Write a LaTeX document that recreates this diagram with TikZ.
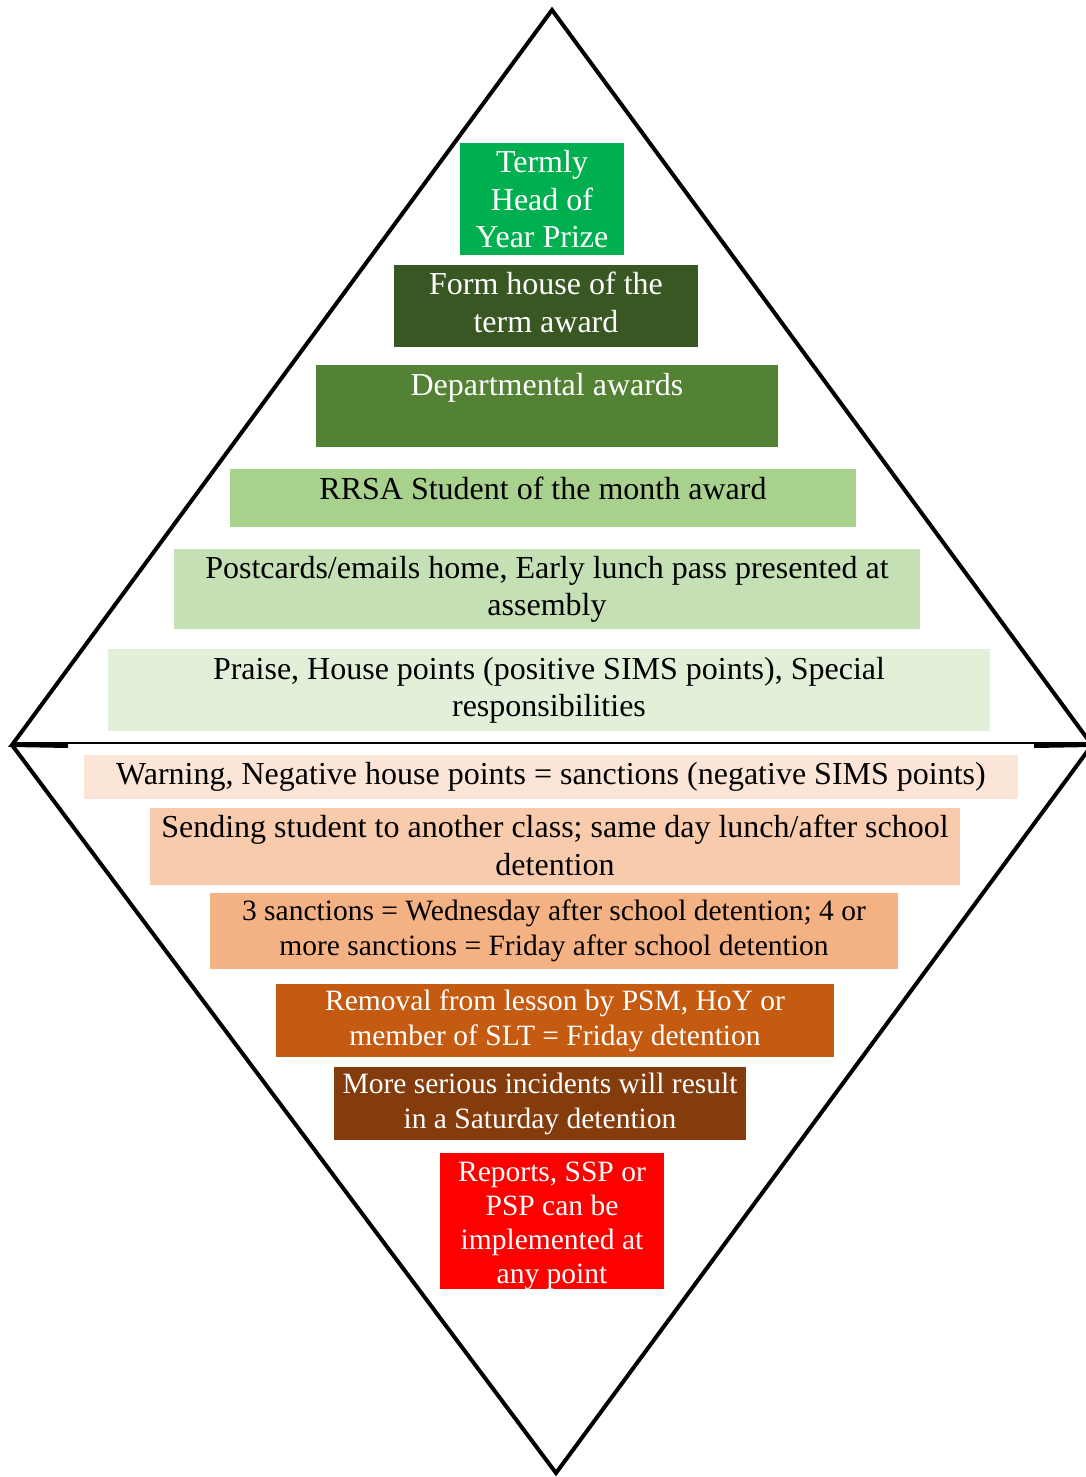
\documentclass[tikz,border=0pt]{standalone}
\usepackage{fontspec}
\setmainfont{Liberation Serif}
\usepackage{xcolor}
\usetikzlibrary{positioning}

\definecolor{prizegreen}{HTML}{00B050}
\definecolor{formgreen}{HTML}{385723}
\definecolor{deptgreen}{HTML}{548235}
\definecolor{rrsagreen}{HTML}{A9D18E}
\definecolor{cardgreen}{HTML}{C5E0B4}
\definecolor{praisegreen}{HTML}{E2F0D9}
\definecolor{warnorange}{HTML}{FBE5D6}
\definecolor{sendorange}{HTML}{F8CBAD}
\definecolor{sanctorange}{HTML}{F4B183}
\definecolor{removeorange}{HTML}{C55A11}
\definecolor{seriousbrown}{HTML}{843C0C}
\definecolor{reportred}{HTML}{FF0000}

\begin{document}
\begin{tikzpicture}[
    x=1pt, y=-1pt,
    tier/.style={rectangle, inner sep=0pt, anchor=north, align=center},
    upper/.style={tier, font=\fontsize{32}{37.5}\selectfont},
    lower/.style={tier, font=\fontsize{29.5}{35}\selectfont},
    rim/.style={line width=4pt, line join=miter},
    divider/.style={line width=1.5pt}
]
    \useasboundingbox (0,0) rectangle (1086,1477);

    % Diamond outline
    \coordinate (apex) at (552,10);
    \coordinate (west) at (12,745);
    \coordinate (east) at (1092,745);
    \coordinate (foot) at (556,1473);
    \coordinate (wstub) at (68,746);
    \coordinate (estub) at (1034,746);

    \draw[rim] (wstub) -- (west) -- (apex) -- (east) -- (estub);
    \draw[rim] (west) -- (foot) -- (east);
    \draw[divider] (12,743) -- (1092,743);

    % Rewards (upper half)
    \node[upper, fill=prizegreen, text=white, minimum width=164pt, minimum height=112pt] (prize) at (542,143) {Termly\\Head of\\Year Prize};
    \node[upper, fill=formgreen, text=white, minimum width=304pt, text height=67pt, text depth=15pt] (formhouse) at (546,265) {Form house of the\\term award};
    \node[upper, fill=deptgreen, text=white, minimum width=462pt, text height=30.5pt, text depth=51.5pt] (dept) at (547,365) {Departmental awards};
    \node[upper, fill=rrsagreen, minimum width=626pt, text height=30.5pt, text depth=27.5pt] (rrsa) at (543,469) {RRSA Student of the month award};
    \node[upper, fill=cardgreen, minimum width=746pt, minimum height=80pt] (postcards) at (547,549) {Postcards/emails home, Early lunch pass presented at\\assembly};
    \node[upper, fill=praisegreen, minimum width=882pt, minimum height=82pt] (praise) at (549,649) {Praise, House points (positive SIMS points), Special\\responsibilities};

    % Sanctions (lower half)
    \node[upper, fill=warnorange, minimum width=934pt, minimum height=44pt] (warning) at (551,755) {Warning, Negative house points = sanctions (negative SIMS points)};
    \node[upper, fill=sendorange, minimum width=810pt, text height=67pt, text depth=10pt] (sending) at (555,808) {Sending student to another class; same day lunch/after school\\detention};
    \node[lower, fill=sanctorange, minimum width=688pt, minimum height=76pt] (sanctions) at (554,893) {3 sanctions = Wednesday after school detention; 4 or\\more sanctions = Friday after school detention};
    \node[lower, fill=removeorange, text=white, minimum width=558pt, minimum height=73pt] (removal) at (555,984) {Removal from lesson by PSM, HoY or\\member of SLT = Friday detention};
    \node[lower, fill=seriousbrown, text=white, minimum width=412pt, minimum height=73pt] (serious) at (540,1067) {More serious incidents will result\\in a Saturday detention};
    \node[lower, fill=reportred, text=white, minimum width=224pt, text height=130.5pt, text depth=5.5pt, font=\fontsize{29.5}{34}\selectfont] (reports) at (552,1153) {Reports, SSP or\\PSP can be\\implemented at\\any point};
\end{tikzpicture}
\end{document}
